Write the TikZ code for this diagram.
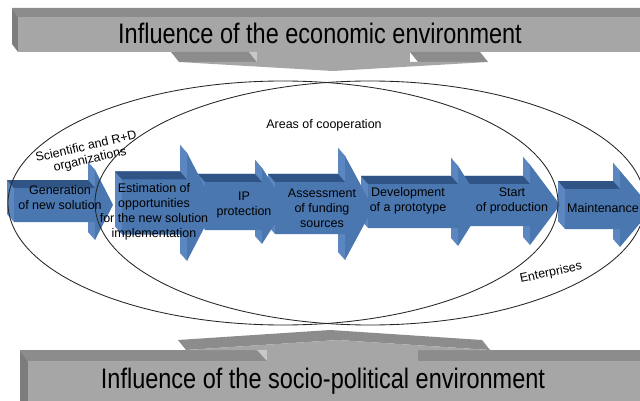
\documentclass[tikz,border=0pt]{standalone}
\usepackage{fontspec}
\setmainfont{Liberation Sans}
\usepackage{graphicx}
\definecolor{afront}{RGB}{74,119,175}
\definecolor{atop}{RGB}{48,84,134}
\definecolor{aside}{RGB}{92,134,192}
\definecolor{gfront}{RGB}{166,166,166}
\definecolor{gtop}{RGB}{140,140,140}
\definecolor{gside}{RGB}{125,125,125}
\definecolor{glight}{RGB}{200,200,200}
\newcommand\tdarrow[6]{% x0, x1, tip, yc, body half, head half
  \fill[aside] ({#1-7},{#4-#5-8}) -- ({#2-7},{#4-#5-8}) -- ({#2-7},{#4-#6-8}) -- ({#3-7},{#4-8}) -- ({#2-7},{#4+#6-8}) -- ({#2-7},{#4+#5-8}) -- ({#1-7},{#4+#5-8}) -- cycle;
  \fill[aside] (#1,{#4-#5}) -- ({#1-7},{#4-#5-8}) -- ({#1-7},{#4+#5-8}) -- (#1,{#4+#5}) -- cycle;
  \fill[aside] (#2,{#4-#5}) -- (#2,{#4-#6}) -- ({#2-7},{#4-#6-8}) -- ({#2-7},{#4-#5-8}) -- cycle;
  \fill[aside] (#2,{#4-#6}) -- (#3,#4) -- ({#3-7},{#4-8}) -- ({#2-7},{#4-#6-8}) -- cycle;
  \fill[aside] (#2,{#4+#5}) -- (#2,{#4+#6}) -- ({#2-7},{#4+#6-8}) -- ({#2-7},{#4+#5-8}) -- cycle;
  \fill[atop] (#1,{#4-#5}) -- ({#1-7},{#4-#5-8}) -- ({#2-7},{#4-#5-8}) -- (#2,{#4-#5}) -- cycle;
  \fill[afront] (#1,{#4-#5}) -- (#2,{#4-#5}) -- (#2,{#4-#6}) -- (#3,#4) -- (#2,{#4+#6}) -- (#2,{#4+#5}) -- (#1,{#4+#5}) -- cycle;
}
\begin{document}
\begin{tikzpicture}[x=1pt,y=-1pt,
  lbl/.style={font=\fontsize{12.5}{15}\selectfont, align=center, inner sep=0pt},
  ttl/.style={font=\fontsize{23.5}{26}\selectfont, inner sep=0pt},
  ell/.style={draw=black!85, line width=0.85pt}]
\useasboundingbox (0,0) rectangle (640,401);
\clip (0,0) rectangle (640,401);
\fill[white] (0,0) rectangle (640,401);

% top banner
\fill[gtop] (12,8) -- (640,8) -- (640,17) -- (18,17) -- cycle;
\fill[gside] (12,8) -- (18,17) -- (18,52) -- (12,44) -- cycle;
\fill[gfront] (18,17) -- (640,17) -- (640,52) -- (18,52) -- cycle;
\fill[gtop] (171,52) -- (249,52) -- (257,62) -- (179,62) -- cycle;
\fill[gtop] (410,52) -- (480,52) -- (488,62) -- (418,62) -- cycle;
\fill[glight] (249,52) -- (257,52) -- (257,62) -- cycle;
\fill[gfront] (257,52) -- (410,52) -- (410,62) -- (257,62) -- cycle;
\fill[gfront] (179,62) -- (488,62) -- (333,71) -- cycle;

% bottom banner
\fill[gtop] (20,350) -- (640,350) -- (640,361) -- (28,361) -- cycle;
\fill[gside] (20,350) -- (28,361) -- (28,401) -- (20,401) -- cycle;
\fill[gfront] (28,361) -- (640,361) -- (640,401) -- (28,401) -- cycle;
\fill[gtop] (178,340) -- (330,330) -- (482,340) -- (490,350) -- (338,340) -- (186,350) -- cycle;
\fill[gfront] (186,350) -- (338,340) -- (490,350) -- cycle;
\fill[glight] (257,350) -- (267,350) -- (267,361) -- cycle;
\fill[gfront] (267,350) -- (418,350) -- (418,361) -- (267,361) -- cycle;

% arrows, right to left
\tdarrow{565}{620}{652}{209}{20}{38}
\tdarrow{462}{530}{560}{205}{21}{40}
\tdarrow{368}{458}{483}{206}{22}{40}
\tdarrow{275}{345}{373}{208}{26}{52}
\tdarrow{205}{262}{286}{206}{24}{38}
\tdarrow{122}{187}{215}{207}{27.5}{54}
\tdarrow{14}{95}{113}{205}{17}{35}

% ellipses
\draw[ell] (283,203) ellipse [x radius=275, y radius=122];
\draw[ell] (370,203) ellipse [x radius=275, y radius=122];

% titles
\node[ttl] (econ) at (320,33) {\scalebox{1}[1.2]{Influence of the economic environment}};
\node[ttl] (socio) at (323,381) {\scalebox{1}[1.2]{Influence of the socio-political environment}};

% labels
\node[lbl] (coop) at (324,125) {Areas of cooperation};
\node[lbl, rotate=13] (sci) at (86,146) {Scientific and R+D};
\node[lbl, rotate=13] (sci2) at (90,160) {organizations};
\node[lbl, rotate=12] (ent) at (551,273) {Enterprises};

\node[lbl] (t1) at (60,198) {Generation\\of new solution};
\node[lbl] (t2) at (154,212) {Estimation of\\opportunities\\for the new solution\\implementation};
\node[lbl] (t3) at (244,205) {IP\\protection};
\node[lbl] (t4) at (322,208) {Assessment\\of funding\\sources};
\node[lbl] (t5) at (408,201) {Development\\of a prototype};
\node[lbl] (t6) at (512,201) {Start\\of production};
\node[lbl] (t7) at (603,208) {Maintenance};
\end{tikzpicture}
\end{document}
